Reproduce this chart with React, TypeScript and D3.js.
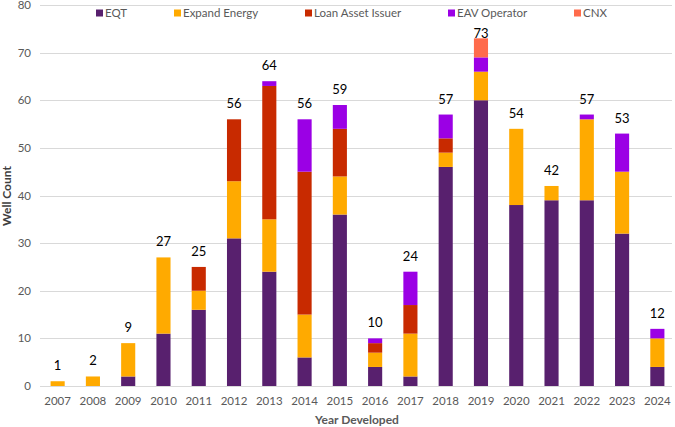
import { useRef, useEffect } from "react"
import * as d3 from "d3"

const years = ["2007", "2008", "2009", "2010", "2011", "2012", "2013", "2014", "2015", "2016", "2017", "2018", "2019", "2020", "2021", "2022", "2023", "2024"]
const seriesNames = ["EQT", "Expand Energy", "Loan Asset Issuer", "EAV Operator", "CNX"]
const eqt = [0, 0, 2, 11, 16, 31, 24, 6, 36, 4, 2, 46, 60, 38, 39, 39, 32, 4]
const expandEnergy = [1, 2, 7, 16, 4, 12, 11, 9, 8, 3, 9, 3, 6, 16, 3, 17, 13, 6]
const loanAssetIssuer = [0, 0, 0, 0, 5, 13, 28, 30, 10, 2, 6, 3, 0, 0, 0, 0, 0, 0]
const eavOperator = [0, 0, 0, 0, 0, 0, 1, 11, 5, 1, 7, 5, 3, 0, 0, 1, 8, 2]
const cnx = [0, 0, 0, 0, 0, 0, 0, 0, 0, 0, 0, 0, 4, 0, 0, 0, 0, 0]
const colors = ["#58206e", "#ffaa00", "#c82a00", "#9b00e5", "#ff6b4b"]
const yTicks = [0, 10, 20, 30, 40, 50, 60, 70, 80]

const W = 675
const H = 427
const FONT = "Lato, 'Noto Sans', sans-serif"

export default function App() {
  const svgRef = useRef<SVGSVGElement>(null)

  useEffect(() => {
    if (!svgRef.current) return
    const svg = d3.select(svgRef.current)
    svg.selectAll("*").remove()

    const values = [eqt, expandEnergy, loanAssetIssuer, eavOperator, cnx]
    const rows = years.map((y, i) => {
      const r: any = { year: y }
      seriesNames.forEach((s, k) => (r[s] = values[k][i]))
      return r
    })
    const stacked = d3.stack<any>().keys(seriesNames)(rows)

    const x = d3.scaleBand().domain(years).range([40, 675]).paddingInner(0.6).paddingOuter(0.3)
    const y = d3.scaleLinear().domain([0, 80]).range([386, 5])

    // gridlines
    svg
      .append("g")
      .selectAll("line")
      .data(yTicks)
      .join("line")
      .attr("x1", 40)
      .attr("x2", 672)
      .attr("y1", (d) => Math.round(y(d)) + 0.5)
      .attr("y2", (d) => Math.round(y(d)) + 0.5)
      .attr("stroke", "#d9d9d9")
      .attr("stroke-width", 1)

    // y labels
    svg
      .append("g")
      .selectAll("text")
      .data(yTicks)
      .join("text")
      .attr("x", 31)
      .attr("y", (d) => y(d) + 4)
      .attr("text-anchor", "end")
      .attr("font-family", FONT)
      .attr("font-size", 11.5)
      .attr("fill", "#595959")
      .text((d) => d)

    // bars
    svg
      .append("g")
      .selectAll("g")
      .data(stacked)
      .join("g")
      .attr("fill", (_d, i) => colors[i])
      .selectAll("rect")
      .data((d) => d)
      .join("rect")
      .attr("x", (d) => x(d.data.year)!)
      .attr("width", x.bandwidth())
      .attr("y", (d) => y(d[1]))
      .attr("height", (d) => y(d[0]) - y(d[1]))

    // totals (the top one is kept clear of the legend)
    svg
      .append("g")
      .selectAll("text")
      .data(rows)
      .join("text")
      .attr("x", (d) => x(d.year)! + x.bandwidth() / 2)
      .attr("y", (d) => Math.max(y(d3.sum(seriesNames, (s) => d[s])) - 16, 33) + 5)
      .attr("text-anchor", "middle")
      .attr("font-family", FONT)
      .attr("font-size", 13)
      .attr("fill", "#000")
      .text((d) => d3.sum(seriesNames, (s) => d[s]))

    // x labels
    svg
      .append("g")
      .selectAll("text")
      .data(years)
      .join("text")
      .attr("x", (d) => x(d)! + x.bandwidth() / 2)
      .attr("y", 405)
      .attr("text-anchor", "middle")
      .attr("font-family", FONT)
      .attr("font-size", 11.5)
      .attr("fill", "#595959")
      .text((d) => d)

    // axis titles
    svg
      .append("text")
      .attr("x", 357)
      .attr("y", 424)
      .attr("text-anchor", "middle")
      .attr("font-family", FONT)
      .attr("font-size", 12)
      .attr("font-weight", "bold")
      .attr("fill", "#595959")
      .text("Year Developed")

    svg
      .append("text")
      .attr("transform", "translate(11,196) rotate(-90)")
      .attr("text-anchor", "middle")
      .attr("font-family", FONT)
      .attr("font-size", 12)
      .attr("font-weight", "bold")
      .attr("fill", "#404040")
      .text("Well Count")

    // legend
    const legendX = [96, 174, 305, 448, 574]
    const lg = svg
      .append("g")
      .selectAll("g")
      .data(seriesNames)
      .join("g")
      .attr("transform", (_d, i) => `translate(${legendX[i]},13)`)
    lg.append("rect").attr("x", 0).attr("y", -3.5).attr("width", 7).attr("height", 7).attr("fill", (_d, i) => colors[i])
    lg.append("text")
      .attr("x", 9)
      .attr("y", 4)
      .attr("font-family", FONT)
      .attr("font-size", 11.5)
      .attr("fill", "#595959")
      .text((d) => d)
  }, [])

  return (
    <svg
      ref={svgRef}
      width={W}
      height={H}
      viewBox={`0 0 ${W} ${H}`}
      style={{ position: "fixed", top: 0, left: 0, display: "block", background: "#fff" }}
    />
  )
}
